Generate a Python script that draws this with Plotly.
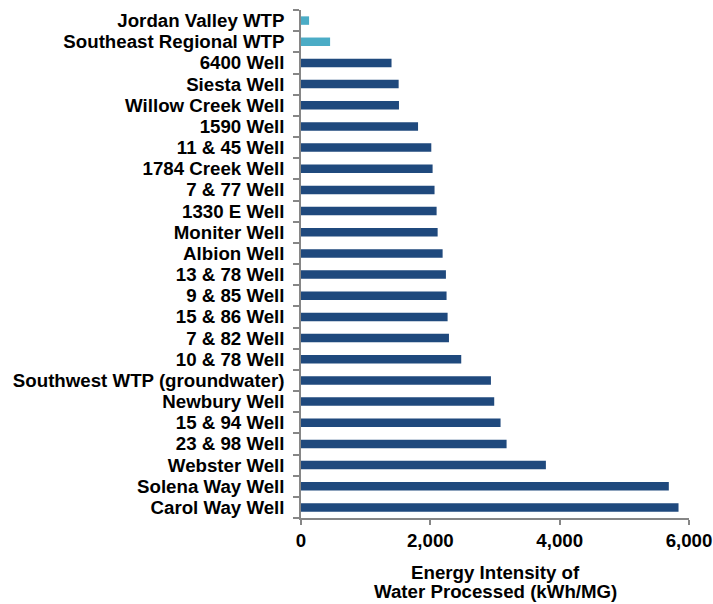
import plotly.graph_objects as go

categories = [
    "Jordan Valley WTP", "Southeast Regional WTP", "6400 Well", "Siesta Well",
    "Willow Creek Well", "1590 Well", "11 & 45 Well", "1784 Creek Well",
    "7 & 77 Well", "1330 E Well", "Moniter Well", "Albion Well",
    "13 & 78 Well", "9 & 85 Well", "15 & 86 Well", "7 & 82 Well",
    "10 & 78 Well", "Southwest WTP (groundwater)", "Newbury Well",
    "15 & 94 Well", "23 & 98 Well", "Webster Well", "Solena Way Well",
    "Carol Way Well",
]
values = [
    125, 450, 1400, 1510, 1515, 1810, 2015, 2035, 2065, 2097, 2113, 2190,
    2241, 2251, 2267, 2288, 2478, 2937, 2988, 3086, 3179, 3787, 5688, 5838,
]
kinds = ["wtp", "wtp"] + ["well"] * 22
tick_vals = [0, 2000, 4000, 6000]
tick_text = ["0", "2,000", "4,000", "6,000"]
title_lines = ["Energy Intensity of", "Water Processed (kWh/MG)"]

color_map = {"wtp": "#4BACC6", "well": "#1F497D"}
colors = [color_map[k] for k in kinds]

fig = go.Figure(
    go.Bar(
        x=values,
        y=categories,
        orientation="h",
        marker=dict(color=colors, line=dict(width=0)),
        width=0.4,
        hoverinfo="skip",
    )
)

font = "Liberation Sans, Arial, sans-serif"
fsize = 18.7
fig.update_layout(
    width=713,
    height=604,
    margin=dict(l=301, r=24, t=10, b=86, autoexpand=False),
    paper_bgcolor="white",
    plot_bgcolor="white",
    showlegend=False,
    font=dict(family=font, size=fsize, color="black"),
    xaxis=dict(
        range=[0, 6000],
        tickmode="array",
        tickvals=tick_vals,
        ticktext=tick_text,
        automargin=False,
        showgrid=False,
        zeroline=False,
        showline=True,
        linecolor="#868686",
        linewidth=1.5,
        ticks="outside",
        ticklen=5,
        tickwidth=1.5,
        tickcolor="#868686",
        tickfont=dict(family=font, size=fsize, color="black", weight="bold"),
    ),
    yaxis=dict(
        type="category",
        categoryorder="array",
        categoryarray=categories,
        tickmode="array",
        tickvals=categories,
        ticktext=categories,
        autorange="reversed",
        automargin=False,
        showgrid=False,
        zeroline=False,
        showline=True,
        linecolor="#868686",
        linewidth=1.5,
        ticks="outside",
        tickson="boundaries",
        ticklen=6,
        tickwidth=1.5,
        tickcolor="#868686",
        ticklabelstandoff=11,
        tickfont=dict(family=font, size=fsize, color="black", weight="bold"),
    ),
)

for i, line in enumerate(title_lines):
    fig.add_annotation(
        text=line,
        xref="paper", yref="paper",
        x=0.5, y=0,
        xanchor="center", yanchor="middle",
        yshift=-54 - 19 * i,
        showarrow=False,
        font=dict(family=font, size=fsize, color="black", weight="bold"),
    )

fig.write_html("out.html")
